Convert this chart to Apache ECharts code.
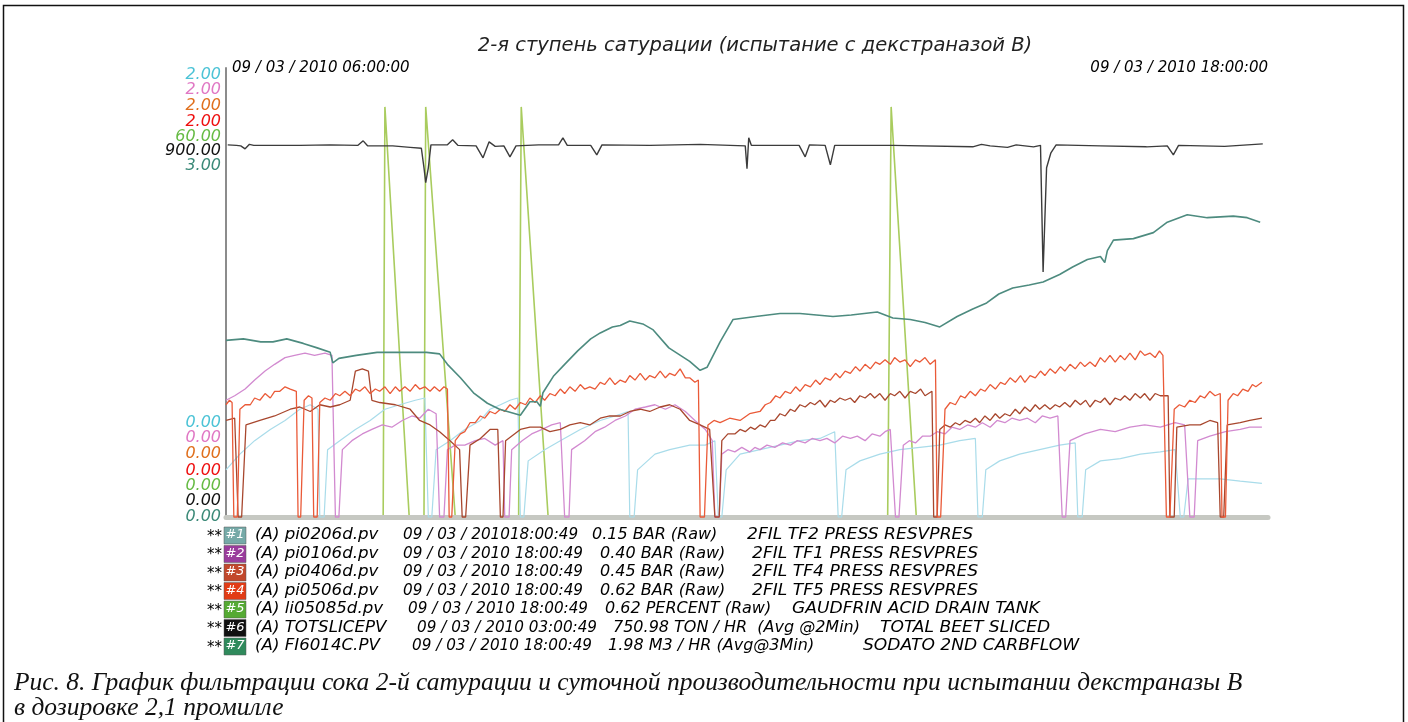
<!DOCTYPE html>
<html>
<head>
<meta charset="utf-8">
<script src="https://cdn.jsdelivr.net/npm/echarts@6.0.0/dist/echarts.min.js"></script>
</head>
<body style="margin:0;background:#fff">
<div id="main" style="width:1408px;height:722px;"></div>
<script type="text/javascript">
// time axis (hours of 09/03/2010)
var tickLabels = ['09 / 03 / 2010 06:00:00', '09 / 03 / 2010 18:00:00'];
var startHour = 6, endHour = 18;

// scale max of every pen (all start at 0)
var scaleMax = [2, 2, 2, 2, 60, 900, 3];

// #1 pi0206d.pv, BAR
var pi0206d = [[6.00,0.21],[6.16,0.28],[6.33,0.34],[6.51,0.39],[6.68,0.43],[6.85,0.48],[6.97,0.50],[7.06,0.48],[7.08,0],[7.13,0],[7.17,0.30],[7.31,0.34],[7.49,0.39],[7.66,0.43],[7.83,0.48],[8.00,0.50],[8.18,0.52],[8.29,0.53],[8.33,0],[8.37,0],[8.42,0.30],[8.58,0.34],[8.75,0.39],[8.93,0.43],[9.04,0.48],[9.16,0.50],[9.27,0.52],[9.36,0.53],[9.39,0],[9.43,0],[9.48,0.25],[9.67,0.30],[9.85,0.34],[10.08,0.39],[10.31,0.43],[10.48,0.45],[10.63,0.47],[10.65,0],[10.70,0],[10.74,0.21],[10.94,0.28],[11.11,0.30],[11.34,0.32],[11.52,0.32],[11.63,0.34],[11.67,0],[11.71,0],[11.76,0.21],[11.92,0.28],[12.15,0.30],[12.38,0.32],[12.61,0.34],[12.84,0.35],[13.01,0.38],[13.05,0],[13.09,0],[13.14,0.21],[13.30,0.25],[13.53,0.28],[13.76,0.30],[13.99,0.31],[14.22,0.32],[14.45,0.34],[14.63,0.35],[14.66,0],[14.71,0],[14.75,0.21],[14.91,0.25],[15.14,0.28],[15.37,0.30],[15.60,0.32],[15.78,0.33],[15.81,0],[15.86,0],[15.90,0.21],[16.07,0.25],[16.30,0.26],[16.53,0.28],[16.76,0.29],[16.93,0.30],[16.99,0],[17.03,0],[17.08,0.17],[17.27,0.17],[17.45,0.17],[17.68,0.16],[17.93,0.15]];

// #2 pi0106d.pv, BAR
var pi0106d = [[6.00,0.52],[6.10,0.54],[6.22,0.57],[6.33,0.61],[6.45,0.65],[6.56,0.68],[6.68,0.71],[6.79,0.72],[6.91,0.73],[7.02,0.72],[7.14,0.73],[7.22,0.72],[7.26,0],[7.30,0],[7.34,0.30],[7.45,0.34],[7.57,0.37],[7.68,0.39],[7.80,0.41],[7.91,0.40],[8.03,0.43],[8.14,0.45],[8.23,0.44],[8.33,0.48],[8.42,0.46],[8.46,0],[8.51,0],[8.55,0.30],[8.64,0.32],[8.75,0.32],[8.87,0.34],[8.98,0.35],[9.10,0.32],[9.19,0.34],[9.21,0],[9.26,0],[9.29,0.30],[9.41,0.34],[9.52,0.37],[9.64,0.39],[9.75,0.41],[9.85,0.42],[9.90,0],[9.95,0],[9.98,0.30],[10.13,0.34],[10.25,0.38],[10.36,0.40],[10.48,0.43],[10.60,0.45],[10.71,0.48],[10.83,0.49],[10.94,0.50],[11.06,0.48],[11.17,0.50],[11.29,0.47],[11.40,0.43],[11.52,0.39],[11.60,0.34],[11.63,0],[11.68,0],[11.71,0.28],[11.78,0.30],[11.86,0.29],[11.94,0.31],[12.03,0.29],[12.09,0.31],[12.15,0.30],[12.23,0.32],[12.32,0.31],[12.41,0.33],[12.50,0.32],[12.58,0.34],[12.67,0.33],[12.75,0.35],[12.84,0.34],[12.92,0.35],[13.01,0.33],[13.10,0.36],[13.19,0.35],[13.27,0.36],[13.36,0.34],[13.44,0.37],[13.53,0.36],[13.59,0.38],[13.65,0.39],[13.71,0],[13.75,0],[13.80,0.32],[13.87,0.34],[13.94,0.33],[14.02,0.36],[14.11,0.36],[14.19,0.38],[14.28,0.37],[14.36,0.40],[14.45,0.39],[14.54,0.41],[14.63,0.40],[14.71,0.42],[14.80,0.40],[14.88,0.43],[14.97,0.42],[15.05,0.44],[15.14,0.43],[15.23,0.44],[15.32,0.42],[15.40,0.45],[15.49,0.44],[15.58,0.45],[15.63,0],[15.67,0],[15.72,0.34],[15.89,0.37],[16.07,0.39],[16.24,0.38],[16.41,0.40],[16.58,0.41],[16.76,0.40],[16.93,0.42],[17.04,0.41],[17.10,0],[17.15,0],[17.19,0.34],[17.33,0.36],[17.51,0.38],[17.68,0.39],[17.79,0.40],[17.93,0.40]];

// #3 pi0406d.pv, BAR
var pi0406d = [[6.00,0.43],[6.10,0.44],[6.14,0],[6.18,0],[6.23,0.41],[6.39,0.43],[6.56,0.45],[6.74,0.48],[6.85,0.49],[6.97,0.47],[7.08,0.50],[7.20,0.49],[7.31,0.50],[7.43,0.52],[7.49,0.65],[7.57,0.66],[7.64,0.65],[7.68,0.52],[7.77,0.51],[7.95,0.50],[8.12,0.48],[8.23,0.43],[8.35,0.41],[8.46,0.38],[8.58,0.34],[8.69,0.30],[8.72,0],[8.76,0],[8.81,0.32],[8.93,0.35],[9.04,0.39],[9.13,0.39],[9.16,0],[9.19,0],[9.22,0.34],[9.39,0.39],[9.50,0.40],[9.62,0.40],[9.73,0.38],[9.85,0.39],[9.96,0.41],[10.08,0.42],[10.19,0.41],[10.31,0.44],[10.42,0.45],[10.54,0.45],[10.65,0.47],[10.77,0.48],[10.88,0.47],[11.00,0.49],[11.11,0.50],[11.23,0.48],[11.34,0.43],[11.46,0.41],[11.57,0.39],[11.63,0],[11.68,0],[11.71,0.34],[11.78,0.37],[11.86,0.37],[11.92,0.39],[11.98,0.38],[12.04,0.40],[12.09,0.39],[12.15,0.41],[12.21,0.40],[12.27,0.43],[12.32,0.43],[12.38,0.46],[12.44,0.45],[12.50,0.48],[12.55,0.47],[12.61,0.50],[12.67,0.49],[12.73,0.51],[12.78,0.50],[12.84,0.52],[12.90,0.49],[12.96,0.52],[13.01,0.51],[13.07,0.53],[13.13,0.52],[13.19,0.53],[13.24,0.51],[13.30,0.54],[13.36,0.53],[13.42,0.55],[13.47,0.53],[13.53,0.55],[13.59,0.52],[13.65,0.55],[13.70,0.54],[13.76,0.56],[13.82,0.53],[13.88,0.56],[13.94,0.55],[14.00,0.57],[14.05,0.54],[14.13,0.56],[14.15,0],[14.19,0],[14.22,0.39],[14.28,0.41],[14.34,0.40],[14.40,0.42],[14.45,0.41],[14.51,0.43],[14.57,0.42],[14.63,0.44],[14.68,0.42],[14.74,0.45],[14.80,0.43],[14.86,0.46],[14.91,0.44],[14.97,0.46],[15.03,0.45],[15.09,0.48],[15.14,0.46],[15.20,0.49],[15.26,0.47],[15.32,0.50],[15.37,0.48],[15.43,0.50],[15.49,0.48],[15.55,0.50],[15.60,0.49],[15.66,0.51],[15.72,0.49],[15.78,0.52],[15.84,0.50],[15.90,0.52],[15.95,0.49],[16.01,0.52],[16.07,0.51],[16.12,0.53],[16.18,0.50],[16.24,0.53],[16.30,0.52],[16.35,0.54],[16.41,0.52],[16.47,0.55],[16.53,0.53],[16.58,0.55],[16.64,0.52],[16.70,0.55],[16.76,0.54],[16.85,0.54],[16.87,0],[16.92,0],[16.95,0.40],[17.10,0.41],[17.22,0.41],[17.33,0.43],[17.42,0.42],[17.45,0],[17.49,0],[17.53,0.41],[17.68,0.42],[17.79,0.43],[17.93,0.44]];

// #4 pi0506d.pv, BAR
var pi0506d = [[6.00,0.50],[6.04,0.52],[6.07,0.51],[6.09,0],[6.13,0],[6.16,0.48],[6.22,0.50],[6.28,0.50],[6.33,0.53],[6.39,0.52],[6.45,0.55],[6.51,0.53],[6.56,0.56],[6.62,0.56],[6.68,0.58],[6.74,0.57],[6.81,0.56],[6.83,0],[6.86,0],[6.90,0.52],[6.95,0.54],[6.99,0.53],[7.01,0],[7.05,0],[7.08,0.51],[7.14,0.53],[7.20,0.52],[7.26,0.55],[7.31,0.54],[7.37,0.56],[7.43,0.54],[7.49,0.57],[7.54,0.56],[7.60,0.58],[7.66,0.55],[7.72,0.57],[7.77,0.56],[7.83,0.58],[7.89,0.55],[7.95,0.58],[8.00,0.56],[8.06,0.58],[8.12,0.56],[8.18,0.59],[8.23,0.57],[8.29,0.58],[8.35,0.56],[8.40,0.58],[8.46,0.56],[8.51,0.58],[8.55,0.57],[8.57,0],[8.60,0],[8.64,0.34],[8.70,0.37],[8.75,0.38],[8.81,0.42],[8.87,0.42],[8.93,0.45],[8.98,0.44],[9.04,0.47],[9.10,0.46],[9.16,0.48],[9.21,0.47],[9.27,0.50],[9.33,0.48],[9.39,0.51],[9.45,0.50],[9.50,0.53],[9.56,0.51],[9.62,0.54],[9.67,0.52],[9.73,0.55],[9.79,0.54],[9.85,0.57],[9.90,0.55],[9.96,0.58],[10.02,0.56],[10.08,0.59],[10.13,0.57],[10.19,0.58],[10.25,0.57],[10.31,0.60],[10.36,0.59],[10.42,0.62],[10.48,0.59],[10.54,0.61],[10.60,0.60],[10.65,0.63],[10.71,0.61],[10.77,0.64],[10.83,0.61],[10.88,0.63],[10.94,0.62],[11.00,0.65],[11.06,0.62],[11.11,0.64],[11.17,0.63],[11.23,0.66],[11.29,0.62],[11.34,0.62],[11.40,0.60],[11.44,0.61],[11.46,0],[11.51,0],[11.55,0.41],[11.62,0.43],[11.69,0.42],[11.80,0.44],[11.92,0.43],[12.03,0.46],[12.15,0.47],[12.21,0.50],[12.27,0.51],[12.33,0.54],[12.38,0.53],[12.44,0.56],[12.50,0.55],[12.56,0.58],[12.61,0.56],[12.67,0.59],[12.73,0.58],[12.79,0.61],[12.84,0.59],[12.90,0.62],[12.96,0.61],[13.02,0.64],[13.07,0.62],[13.13,0.65],[13.19,0.64],[13.25,0.67],[13.30,0.65],[13.36,0.68],[13.42,0.66],[13.48,0.69],[13.53,0.68],[13.59,0.70],[13.65,0.68],[13.70,0.71],[13.76,0.69],[13.82,0.70],[13.88,0.67],[13.94,0.70],[13.99,0.69],[14.05,0.71],[14.11,0.68],[14.17,0.70],[14.19,0],[14.23,0],[14.28,0.48],[14.34,0.51],[14.40,0.50],[14.46,0.54],[14.51,0.53],[14.57,0.56],[14.63,0.54],[14.69,0.57],[14.74,0.56],[14.80,0.59],[14.86,0.57],[14.92,0.60],[14.97,0.59],[15.03,0.62],[15.09,0.60],[15.15,0.63],[15.20,0.60],[15.26,0.63],[15.32,0.62],[15.38,0.65],[15.43,0.63],[15.49,0.66],[15.55,0.64],[15.61,0.67],[15.66,0.65],[15.72,0.68],[15.78,0.66],[15.84,0.69],[15.89,0.67],[15.95,0.69],[16.01,0.67],[16.07,0.71],[16.12,0.69],[16.18,0.72],[16.24,0.69],[16.30,0.72],[16.35,0.70],[16.41,0.73],[16.47,0.70],[16.53,0.74],[16.58,0.72],[16.64,0.73],[16.70,0.71],[16.75,0.74],[16.79,0.72],[16.83,0],[16.87,0],[16.92,0.48],[16.98,0.50],[17.04,0.49],[17.10,0.52],[17.16,0.51],[17.22,0.54],[17.27,0.53],[17.33,0.56],[17.39,0.54],[17.45,0.55],[17.47,0],[17.51,0],[17.54,0.52],[17.60,0.55],[17.65,0.54],[17.71,0.57],[17.77,0.56],[17.82,0.59],[17.86,0.58],[17.93,0.60]];

// #5 li05085d.pv, PERCENT
var li05085d = [[6.00,0],[7.81,0],[7.83,54.8],[8.11,0],[8.28,0],[8.30,54.8],[8.64,0],[9.37,0],[9.40,54.8],[9.71,0],[13.62,0],[13.66,54.8],[13.95,0],[17.94,0]];

// #6 TOTSLICEPV, TON/HR
var totslicepv = [[6.02,746],[6.12,745],[6.17,744],[6.22,738],[6.27,747],[6.32,745],[6.85,745],[7.20,746],[7.52,745],[7.58,754],[7.63,744],[7.92,744],[8.12,741],[8.25,739],[8.28,700],[8.30,670],[8.33,700],[8.36,746],[8.55,746],[8.61,756],[8.67,745],[8.88,744],[8.96,720],[9.03,752],[9.10,743],[9.20,744],[9.27,722],[9.34,744],[9.60,746],[9.83,746],[9.88,760],[9.93,745],[10.20,745],[10.27,726],[10.33,746],[10.88,745],[11.46,747],[11.98,744],[12.00,698],[12.02,760],[12.05,745],[12.60,745],[12.67,722],[12.72,746],[12.90,745],[12.96,706],[13.01,745],[13.68,745],[14.60,742],[14.70,747],[14.80,744],[15.00,741],[15.10,746],[15.30,742],[15.38,745],[15.41,491],[15.45,700],[15.50,730],[15.56,746],[16.07,744],[16.60,742],[16.84,744],[16.91,726],[16.97,745],[17.50,743],[17.94,748]];

// #7 FI6014C.PV, M3/HR
var fi6014c = [[6.00,1.18],[6.20,1.19],[6.40,1.17],[6.54,1.17],[6.70,1.19],[6.89,1.16],[7.05,1.13],[7.20,1.10],[7.23,1.03],[7.30,1.06],[7.50,1.08],[7.74,1.10],[8.00,1.10],[8.31,1.10],[8.46,1.09],[8.55,1.02],[8.70,0.93],[8.85,0.83],[9.01,0.76],[9.15,0.72],[9.27,0.70],[9.39,0.68],[9.50,0.77],[9.58,0.77],[9.62,0.74],[9.65,0.83],[9.77,0.94],[9.90,1.02],[10.05,1.11],[10.20,1.19],[10.31,1.23],[10.45,1.27],[10.54,1.28],[10.65,1.31],[10.80,1.29],[10.92,1.25],[11.10,1.13],[11.34,1.04],[11.46,0.98],[11.54,1.00],[11.69,1.17],[11.84,1.32],[12.10,1.34],[12.38,1.36],[12.61,1.36],[12.80,1.35],[12.99,1.34],[13.20,1.35],[13.50,1.37],[13.68,1.33],[13.88,1.32],[14.05,1.30],[14.22,1.27],[14.42,1.34],[14.60,1.39],[14.76,1.43],[14.90,1.49],[15.06,1.53],[15.25,1.55],[15.41,1.57],[15.60,1.62],[15.75,1.67],[15.92,1.72],[16.07,1.74],[16.12,1.70],[16.15,1.78],[16.22,1.85],[16.45,1.86],[16.68,1.90],[16.84,1.97],[17.07,2.02],[17.30,2.00],[17.60,2.01],[17.76,2.00],[17.91,1.97]];

// legend lines
var legendTags = ['(A) pi0206d.pv', '(A) pi0106d.pv', '(A) pi0406d.pv', '(A) pi0506d.pv', '(A) li05085d.pv', '(A) TOTSLICEPV', '(A) FI6014C.PV'];
var legendTimes = ['09 / 03 / 201018:00:49', '09 / 03 / 2010 18:00:49', '09 / 03 / 2010 18:00:49', '09 / 03 / 2010 18:00:49', '09 / 03 / 2010 18:00:49', '09 / 03 / 2010 03:00:49', '09 / 03 / 2010 18:00:49'];
var legendValues = ['0.15 BAR (Raw)', '0.40 BAR (Raw)', '0.45 BAR (Raw)', '0.62 BAR (Raw)', '0.62 PERCENT (Raw)', '750.98 TON / HR  (Avg @2Min)', '1.98 M3 / HR (Avg@3Min)'];
var legendDesc = ['2FIL TF2 PRESS RESVPRES', '2FIL TF1 PRESS RESVPRES', '2FIL TF4 PRESS RESVPRES', '2FIL TF5 PRESS RESVPRES', 'GAUDFRIN ACID DRAIN TANK', 'TOTAL BEET SLICED', 'SODATO 2ND CARBFLOW'];

var titleText = '2-я ступень сатурации (испытание с декстраназой B)';
var captionLines = ['Рис. 8. График фильтрации сока 2-й сатурации и суточной производительности при испытании декстраназы В', 'в дозировке 2,1 промилле'];

// styles
var penData = [pi0206d, pi0106d, pi0406d, pi0506d, li05085d, totslicepv, fi6014c];
var labelColors = ['#4cc3d6', '#e078c4', '#e0701e', '#ee1010', '#66bb44', '#111111', '#3c8a78'];
var lineColors = ['#a9dcea', '#d28ad0', '#a8472e', '#ea5a38', '#a9cc5e', '#3c3c3c', '#4d8b7f'];
var lineWidths = [1.2, 1.3, 1.3, 1.3, 1.6, 1.4, 1.6];
var lineZ = [3, 4, 5, 6, 1, 8, 7];
var boxColors = ['#76aaa8', '#9a3c9c', '#c2482c', '#e23c16', '#55aa33', '#111111', '#2f8a5c'];
var labelTop = [7, 22, 38, 54, 69, 83, 98];
var labelBottom = [94, 79, 63, 46, 31, 16, 0];
var legendCols = [[255, 403, 592, 747], [255, 403, 600, 752], [255, 403, 600, 752], [255, 403, 600, 752], [255, 408, 605, 792], [255, 417, 613, 880], [255, 412, 608, 863]];
var legendScale = [1.04, 0.95, 1.0, 1.07];
var font = 'DejaVu Sans';

var yAxes = scaleMax.map(function (m, i) {
    var base = {color: labelColors[i], fontSize: 16, fontStyle: 'italic', fontFamily: font};
    return {
        type: 'value', min: 0, max: m, interval: m, position: 'left',
        axisLine: {show: i === 0, lineStyle: {color: '#8c8c8c', width: 2}},
        axisTick: {show: false},
        splitLine: {show: false},
        axisLabel: {
            margin: 5,
            color: labelColors[i],
            formatter: function (v) {
                return v === 0 ? '{b|' + v.toFixed(2) + '}' : '{t|' + v.toFixed(2) + '}';
            },
            rich: {
                t: Object.assign({padding: [labelTop[i] * 2, 0, 0, 0]}, base),
                b: Object.assign({padding: [0, 0, labelBottom[i] * 2, 0]}, base)
            }
        }
    };
});

var series = penData.map(function (d, i) {
    return {
        name: legendTags[i], type: 'line', yAxisIndex: i, xAxisIndex: 0,
        data: d, showSymbol: false, symbol: 'none', clip: false,
        lineStyle: {color: lineColors[i], width: lineWidths[i]},
        z: lineZ[i]
    };
});

var graphics = [{
    type: 'rect', shape: {x: 3.5, y: 5.5, width: 1400, height: 740},
    style: {fill: 'none', stroke: '#111', lineWidth: 1.5}, silent: true
}];
legendTags.forEach(function (tag, i) {
    var y = 535 + 18.5 * i;
    var cols = legendCols[i];
    var ts = {fill: '#000', fontSize: 16, fontStyle: 'italic', fontFamily: font, verticalAlign: 'middle'};
    graphics.push({type: 'text', x: 207, y: y + 2, style: Object.assign({}, ts, {text: '**', fontSize: 15})});
    graphics.push({type: 'rect', shape: {x: 224, y: y - 8, width: 22, height: 17}, style: {fill: boxColors[i], stroke: '#555', lineWidth: 0.5}});
    graphics.push({type: 'text', x: 235, y: y, style: Object.assign({}, ts, {text: '#' + (i + 1), fill: '#fff', fontSize: 13, align: 'center'})});
    [tag, legendTimes[i], legendValues[i], legendDesc[i]].forEach(function (t, k) {
        graphics.push({type: 'text', x: cols[k], y: y, scaleX: legendScale[k], style: Object.assign({text: t}, ts)});
    });
});
captionLines.forEach(function (t, i) {
    graphics.push({
        type: 'text', x: 14, y: 683 + 25 * i, scaleX: 0.98,
        style: {text: t, fill: '#111', fontSize: 26, fontStyle: 'italic', fontFamily: 'Liberation Serif', verticalAlign: 'middle'}
    });
});

var option = {
    animation: false,
    backgroundColor: '#fff',
    title: {
        text: titleText, left: 750, top: 31, textAlign: 'center',
        textStyle: {fontSize: 19.5, fontWeight: 'normal', fontStyle: 'italic', color: '#222', fontFamily: font}
    },
    grid: {left: 226, right: 140, top: 68, bottom: 205, containLabel: false, outerBoundsMode: 'none'},
    xAxis: [{
        type: 'value', min: startHour, max: endHour, position: 'bottom', z: 2,
        axisLine: {lineStyle: {color: '#c6c8c2', width: 5}},
        axisTick: {show: false}, axisLabel: {show: false}, splitLine: {show: false}
    }, {
        type: 'value', min: startHour, max: endHour, interval: endHour - startHour, position: 'top',
        axisLine: {show: false}, axisTick: {show: false}, splitLine: {show: false},
        axisLabel: {
            margin: -8, color: '#000', fontSize: 15, fontStyle: 'italic', fontFamily: font,
            padding: [0, 0, 0, 6],
            alignMinLabel: 'left', alignMaxLabel: 'right',
            formatter: function (v, idx) { return tickLabels[idx]; }
        }
    }],
    yAxis: yAxes,
    series: series,
    graphic: graphics
};

var myChart = echarts.init(document.getElementById('main'));
myChart.setOption(option);
</script>
</body>
</html>
